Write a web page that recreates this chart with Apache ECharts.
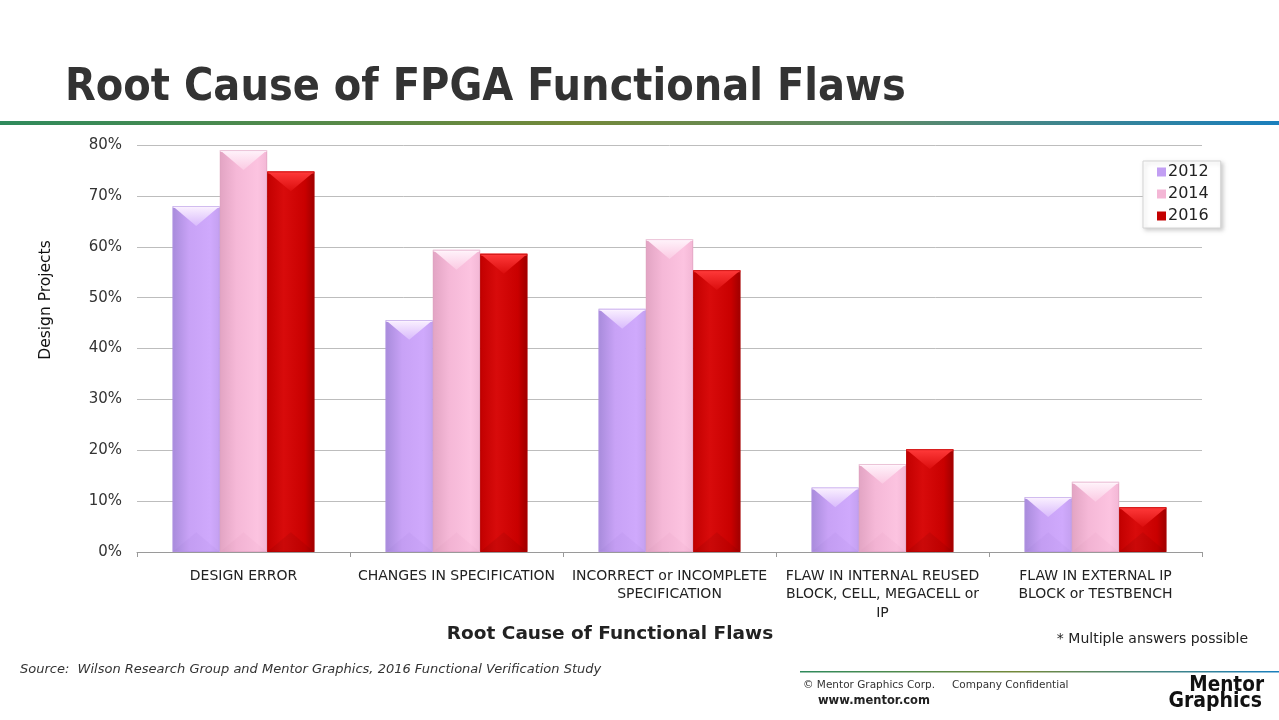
<!DOCTYPE html>
<html>
<head>
<meta charset="utf-8">
<script src="https://cdn.jsdelivr.net/npm/echarts@6/dist/echarts.min.js"></script>
<style>
html,body{margin:0;padding:0;background:#fff;}
#chart{width:1279px;height:720px;}
</style>
</head>
<body>
<div id="chart"></div>
<script>
var categories = [
  'DESIGN ERROR',
  'CHANGES IN SPECIFICATION',
  'INCORRECT or INCOMPLETE\nSPECIFICATION',
  'FLAW IN INTERNAL REUSED\nBLOCK, CELL, MEGACELL or\nIP',
  'FLAW IN EXTERNAL IP\nBLOCK or TESTBENCH'
];
var seriesNames = ['2012', '2014', '2016'];
var values2012 = [68.0, 45.6, 47.8, 12.7, 10.8];
var values2014 = [79.0, 59.4, 61.5, 17.3, 13.8];
var values2016 = [74.8, 58.6, 55.4, 20.2, 8.8];
var yTicks = [0, 10, 20, 30, 40, 50, 60, 70, 80];

var FONT = "'DejaVu Sans', Tahoma, sans-serif";

var palettes = [
  { side: ['#a88bdb', '#c8a2f6', '#cfa9fc', '#c4a0f0'], top: ['#fbf2ff', '#d9bafc'], bottom: 'rgba(120,80,170,0.05)', edge: '#b394e2', legend: '#c29ff3' },
  { side: ['#e2a4c3', '#f5b8d7', '#fcc3e0', '#f3b7d5'], top: ['#fff4fb', '#fbcae3'], bottom: 'rgba(170,80,120,0.04)', edge: '#dda2c0', legend: '#f4b7d6' },
  { side: ['#c20000', '#d80b0b', '#c90000', '#9e0000'], top: ['#ff3a3a', '#db0d0d'], bottom: 'rgba(90,0,0,0.10)', edge: '#b00000', legend: '#c40000' }
];

function hGrad(p) {
  return new echarts.graphic.LinearGradient(0, 0, 1, 0, [
    { offset: 0, color: p.side[0] },
    { offset: 0.35, color: p.side[1] },
    { offset: 0.8, color: p.side[2] },
    { offset: 1, color: p.side[3] }
  ]);
}

function makeRender(si) {
  var p = palettes[si];
  return function (params, api) {
    var cat = api.value(0), v = api.value(1);
    var base = api.coord([cat, 0]);
    var top = api.coord([cat, v]);
    var band = api.size([1, 0])[0];
    var bw = band * 0.222;
    var x0 = base[0] - 1.5 * bw + si * bw;
    var h = base[1] - top[1];
    var bev = Math.min(bw * 0.42, h / 2);
    var yT = top[1], yB = base[1];
    return {
      type: 'group',
      children: [
        { type: 'rect', shape: { x: x0, y: yT, width: bw, height: h }, style: { fill: hGrad(p) } },
        { type: 'polygon', shape: { points: [[x0, yT], [x0 + bw, yT], [x0 + bw / 2, yT + bev]] },
          style: { fill: new echarts.graphic.LinearGradient(0, 0, 0, 1, [{ offset: 0, color: p.top[0] }, { offset: 1, color: p.top[1] }]) } },
        { type: 'polygon', shape: { points: [[x0, yB], [x0 + bw, yB], [x0 + bw / 2, yB - bev]] },
          style: { fill: p.bottom } },
        { type: 'rect', shape: { x: x0, y: yT, width: bw, height: 2 }, style: { fill: p.top[0], opacity: 0.9 } },
        { type: 'rect', shape: { x: x0 + 0.5, y: yT + 0.5, width: bw - 1, height: h - 1 }, style: { fill: null, stroke: p.edge, lineWidth: 1, opacity: 0.6 } }
      ]
    };
  };
}

function toData(arr) { return arr.map(function (v, i) { return [i, v]; }); }
var allValues = [values2012, values2014, values2016];

var series = seriesNames.map(function (name, si) {
  return {
    type: 'custom',
    name: name,
    renderItem: makeRender(si),
    encode: { x: 0, y: 1 },
    itemStyle: { color: palettes[si].legend },
    data: toData(allValues[si]),
    z: 3
  };
});

var chart = echarts.init(document.getElementById('chart'), null, { renderer: 'canvas' });
chart.setOption({
  backgroundColor: '#ffffff',
  animation: false,
  textStyle: { fontFamily: FONT },
  grid: { left: 137, right: 77, top: 145, bottom: 168, containLabel: false },
  legend: {
    orient: 'vertical',
    left: 1143, top: 161,
    data: seriesNames.map(function (n, si) { return { name: n, icon: 'rect', itemStyle: { color: palettes[si].legend } }; }),
    itemWidth: 9, itemHeight: 9, itemGap: 6,
    padding: [3, 12, 4, 14],
    backgroundColor: '#ffffff',
    borderColor: '#d4d4d4', borderWidth: 1,
    shadowColor: 'rgba(0,0,0,0.18)', shadowBlur: 4, shadowOffsetX: 2, shadowOffsetY: 2,
    textStyle: { fontFamily: FONT, fontSize: 16, color: '#222', padding: [0, 0, 0, -3] },
    selectedMode: false
  },
  xAxis: {
    type: 'category',
    data: categories,
    axisLine: { lineStyle: { color: '#9a9a9a', width: 1 } },
    axisTick: { show: true, alignWithLabel: false, length: 5, lineStyle: { color: '#9a9a9a' } },
    axisLabel: { interval: 0, fontFamily: FONT, fontSize: 14, color: '#222', margin: 15, lineHeight: 18.5, align: 'center' },
    splitLine: { show: false }
  },
  yAxis: {
    type: 'value',
    min: 0, max: 80, interval: 10,
    axisLine: { show: false },
    axisTick: { show: false },
    axisLabel: { fontFamily: FONT, fontSize: 15, color: '#333', margin: 15, formatter: function (v) { return v + '%'; } },
    splitLine: { lineStyle: { color: '#bdbdbd', width: 1 } }
  },
  series: series,
  graphic: [
    { type: 'text', x: 65, y: 88, scaleX: 0.89, style: { text: 'Root Cause of FPGA Functional Flaws', fontFamily: FONT, fontWeight: 'bold', fontSize: 45, fill: '#333333', verticalAlign: 'middle' } },
    { type: 'rect', left: 0, top: 121, shape: { width: 1279, height: 4 },
      style: { fill: new echarts.graphic.LinearGradient(0, 0, 1, 0, [
        { offset: 0, color: '#2f8a5c' }, { offset: 0.45, color: '#74893a' }, { offset: 0.7, color: '#5b8a6a' }, { offset: 1, color: '#1a7fbd' }]) } },
    { type: 'text', x: 46, y: 300, rotation: Math.PI / 2, style: { text: 'Design Projects', fontFamily: FONT, fontSize: 15.5, fill: '#111', align: 'center', verticalAlign: 'middle' } },
    { type: 'text', x: 610, y: 634, style: { text: 'Root Cause of Functional Flaws', fontFamily: FONT, fontWeight: 'bold', fontSize: 18.5, fill: '#222', align: 'center', verticalAlign: 'middle' } },
    { type: 'text', x: 1248, y: 639, style: { text: '* Multiple answers possible', fontFamily: FONT, fontSize: 14, fill: '#222', align: 'right', verticalAlign: 'middle' } },
    { type: 'text', x: 20, y: 670, style: { text: 'Source:  Wilson Research Group and Mentor Graphics, 2016 Functional Verification Study', fontFamily: FONT, fontStyle: 'italic', fontSize: 13, fill: '#333', align: 'left', verticalAlign: 'middle' } },
    { type: 'rect', x: 800, y: 671, shape: { width: 479, height: 1.5 },
      style: { fill: new echarts.graphic.LinearGradient(0, 0, 1, 0, [
        { offset: 0, color: '#2f8a5c' }, { offset: 0.45, color: '#74893a' }, { offset: 1, color: '#1a7fbd' }]) } },
    { type: 'text', x: 803, y: 685, style: { text: '© Mentor Graphics Corp.', fontFamily: FONT, fontSize: 10.5, fill: '#333', verticalAlign: 'middle' } },
    { type: 'text', x: 952, y: 685, style: { text: 'Company Confidential', fontFamily: FONT, fontSize: 10.5, fill: '#333', verticalAlign: 'middle' } },
    { type: 'text', x: 818, y: 701, style: { text: 'www.mentor.com', fontFamily: FONT, fontWeight: 'bold', fontSize: 11.5, fill: '#222', verticalAlign: 'middle' } },
    { type: 'text', x: 1264, y: 686, scaleX: 0.88, style: { text: 'Mentor', fontFamily: FONT, fontWeight: 900, fontSize: 21, fill: '#111', align: 'right', verticalAlign: 'middle' } },
    { type: 'text', x: 1262, y: 702, scaleX: 0.9, style: { text: 'Graphics', fontFamily: FONT, fontWeight: 900, fontSize: 21, fill: '#111', align: 'right', verticalAlign: 'middle' } }
  ]
});
</script>
</body>
</html>
